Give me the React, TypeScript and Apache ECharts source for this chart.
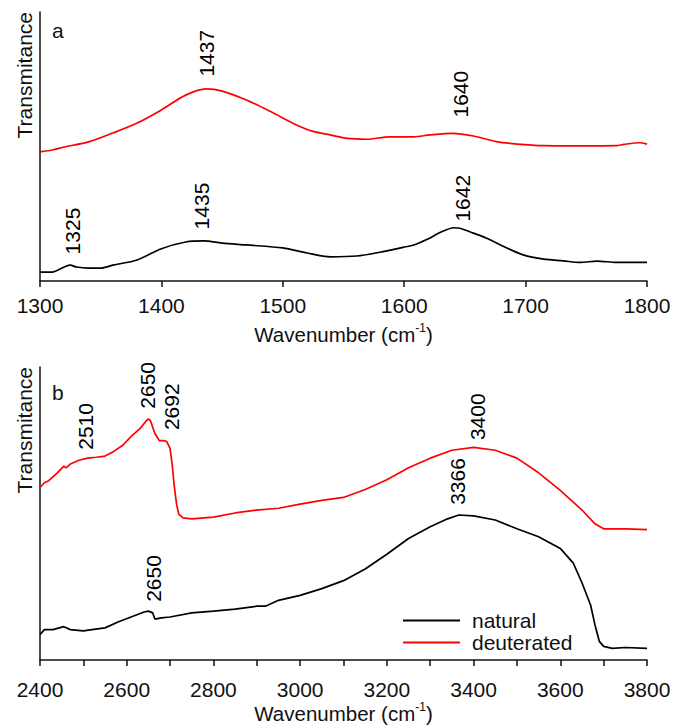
import React, { useEffect, useRef } from "react";
import * as echarts from "echarts";

// Panel a (1300–1800 cm-1): [wavenumber, transmittance (a.u.)]
const naturalA: [number, number][] = [
  [1300, 3.3], [1310, 3.3], [1320, 5.2], [1325, 5.9], [1330, 5.2], [1340, 4.8], [1350, 4.8],
  [1360, 5.9], [1380, 7.8], [1400, 12.0], [1420, 14.5], [1435, 14.9], [1450, 14.1], [1470, 13.4],
  [1500, 12.3], [1520, 10.4], [1539, 9.0], [1561, 9.3], [1580, 10.7], [1599, 12.5], [1608, 13.4],
  [1619, 15.5], [1630, 18.1], [1641, 19.8], [1646, 19.6], [1654, 18.3], [1668, 15.9], [1682, 12.8],
  [1698, 9.7], [1715, 8.1], [1731, 7.5], [1745, 6.9], [1759, 7.4], [1775, 6.9], [1800, 6.9],
];
const deuteratedA: [number, number][] = [
  [1300, 48.0], [1310, 48.7], [1320, 49.8], [1340, 51.7], [1360, 55.0], [1380, 58.7], [1400, 63.6],
  [1420, 69.1], [1437, 71.4], [1450, 70.6], [1470, 67.3], [1490, 63.0], [1510, 58.3], [1525, 55.6],
  [1539, 54.3], [1553, 53.0], [1569, 52.7], [1588, 53.6], [1608, 53.6], [1621, 54.3], [1640, 54.9],
  [1657, 53.9], [1676, 51.8], [1693, 50.9], [1715, 50.3], [1748, 50.2], [1775, 50.3], [1781, 50.8],
  [1794, 51.4], [1800, 50.9],
];

// Panel b (2400–3800 cm-1)
const naturalB: [number, number][] = [
  [2400, 8.7], [2410, 10.4], [2430, 10.4], [2455, 11.4], [2470, 10.4], [2500, 10.0], [2520, 10.4],
  [2550, 11.0], [2580, 13.0], [2610, 14.7], [2640, 16.4], [2650, 16.7], [2660, 16.1], [2665, 14.0],
  [2680, 14.4], [2700, 14.7], [2750, 16.1], [2800, 16.7], [2850, 17.4], [2900, 18.4], [2920, 18.4],
  [2950, 20.4], [3000, 22.1], [3050, 24.4], [3100, 27.1], [3150, 31.1], [3200, 36.1], [3250, 41.5],
  [3300, 45.5], [3340, 48.2], [3366, 49.5], [3400, 49.2], [3450, 47.8], [3500, 44.8], [3550, 42.1],
  [3600, 38.1], [3630, 33.1], [3650, 26.4], [3670, 18.7], [3680, 12.0], [3690, 6.4], [3700, 4.7],
  [3720, 4.0], [3750, 4.3], [3800, 4.0],
];
const deuteratedB: [number, number][] = [
  [2400, 58.9], [2410, 60.5], [2420, 61.2], [2440, 63.9], [2455, 66.2], [2460, 65.6], [2470, 66.9],
  [2490, 68.2], [2510, 68.9], [2530, 69.2], [2550, 69.6], [2570, 71.2], [2590, 73.2], [2610, 76.3],
  [2630, 78.9], [2645, 81.6], [2650, 82.3], [2655, 81.6], [2665, 77.3], [2675, 74.9], [2685, 74.9],
  [2692, 74.6], [2700, 72.2], [2705, 66.6], [2710, 58.9], [2715, 53.2], [2720, 49.8], [2730, 48.5],
  [2750, 48.2], [2800, 48.8], [2850, 50.2], [2900, 51.2], [2950, 51.8], [3000, 53.2], [3050, 54.5],
  [3100, 55.5], [3150, 58.2], [3200, 61.5], [3250, 65.6], [3300, 68.9], [3350, 71.6], [3400, 72.6],
  [3450, 71.6], [3500, 68.9], [3550, 63.9], [3600, 57.9], [3650, 51.2], [3680, 46.5], [3700, 44.8],
  [3750, 44.8], [3800, 44.5],
];

// Peak annotations: [wavenumber position, transmittance at label base, label]
const peaksA: [number, number, string][] = [
  [1437, 75.8, "1437"], [1646, 60.6, "1640"], [1327, 9.7, "1325"], [1433, 19.0, "1435"], [1648, 21.9, "1642"],
];
const peaksB: [number, number, string][] = [
  [2504, 71.6, "2510"], [2649, 85.6, "2650"], [2704, 78.3, "2692"], [3408, 74.9, "3400"],
  [2661, 19.7, "2650"], [3362, 52.8, "3366"],
];

const xTicksA = { min: 1300, max: 1800, interval: 100 };
const xTicksB = { min: 2400, max: 3800, interval: 200 };

const FONT = "'Liberation Sans', Arial, sans-serif";
const TXT = "#111111";
const AXIS = "#111";
const FS = 21;

export default function App() {
  const ref = useRef<HTMLDivElement>(null);
  useEffect(() => {
    if (!ref.current) return;
    const chart = echarts.init(ref.current, null, { renderer: "svg" });

    const xAxisBase = (idx: number, ticks: any, nameGap: number, margin: number) => ({
      type: "value",
      gridIndex: idx,
      min: ticks.min,
      max: ticks.max,
      interval: ticks.interval,
      name: "Wavenumber (cm{sup|-1})",
      nameLocation: "middle",
      nameGap,
      nameTextStyle: {
        fontFamily: FONT, fontSize: 20.5, color: TXT, lineHeight: 24,
        rich: { sup: { fontFamily: FONT, fontSize: 12, lineHeight: 12, verticalAlign: "top", color: TXT } },
      },
      axisLine: { show: true, lineStyle: { color: AXIS, width: 1.5 } },
      axisTick: { show: true, length: 6, lineStyle: { color: AXIS, width: 1.5 } },
      minorTick: idx === 1 ? { show: true, splitNumber: 2, length: 6, lineStyle: { color: AXIS, width: 1.5 } } : { show: false },
      splitLine: { show: false },
      axisLabel: { fontFamily: FONT, fontSize: FS, color: TXT, margin, formatter: (v: number) => String(v) },
    });
    const yAxisBase = (idx: number) => ({
      type: "value",
      gridIndex: idx,
      min: 0,
      max: 100,
      axisLine: { show: true, lineStyle: { color: AXIS, width: 1.5 } },
      axisTick: { show: false },
      axisLabel: { show: false },
      splitLine: { show: false },
    });

    const line = (name: string, data: any, idx: number, color: string, smooth: number | boolean) => ({
      type: "line",
      name,
      data,
      xAxisIndex: idx,
      yAxisIndex: idx,
      symbol: "none",
      smooth,
      color,
      lineStyle: { color, width: 1.7 },
    });
    const ann = (data: any, idx: number) => ({
      type: "scatter",
      data,
      xAxisIndex: idx,
      yAxisIndex: idx,
      symbolSize: 1,
      itemStyle: { color: "transparent" },
      silent: true,
      label: {
        show: true,
        position: "top",
        distance: 0,
        rotate: 90,
        align: "left",
        verticalAlign: "middle",
        fontFamily: FONT,
        fontSize: FS,
        color: "#000",
        opacity: 1,
        textBorderWidth: 0,
        formatter: (p: any) => p.value[2],
      },
    });

    chart.setOption({
      animation: false,
      backgroundColor: "#fff",
      grid: [
        { left: 40, top: 12, width: 607, height: 269 },
        { left: 40, top: 367, width: 607, height: 299 },
      ],
      xAxis: [xAxisBase(0, xTicksA, 41, 14), xAxisBase(1, xTicksB, 40, 19)],
      yAxis: [yAxisBase(0), yAxisBase(1)],
      legend: {
        data: [{ name: "natural", icon: "rect" }, { name: "deuterated", icon: "rect" }],
        orient: "vertical",
        left: 398,
        top: 605,
        itemWidth: 57,
        itemHeight: 2,
        itemGap: 1,
        textStyle: { fontFamily: FONT, fontSize: FS, color: TXT, padding: [0, 0, 0, 7] },
      },
      graphic: [
        { type: "text", x: 24, y: 12, rotation: Math.PI / 2, style: { text: "Transmitance", font: `${FS}px ${FONT}`, fill: TXT, align: "right", verticalAlign: "middle" } },
        { type: "text", x: 24, y: 367, rotation: Math.PI / 2, style: { text: "Transmitance", font: `${FS}px ${FONT}`, fill: TXT, align: "right", verticalAlign: "middle" } },
        { type: "text", x: 52, y: 30, style: { text: "a", font: `${FS}px ${FONT}`, fill: TXT, align: "left", verticalAlign: "middle" } },
        { type: "text", x: 52, y: 392, style: { text: "b", font: `${FS}px ${FONT}`, fill: TXT, align: "left", verticalAlign: "middle" } },
      ],
      series: [
        line("natural", naturalA, 0, "#000000", 0.3),
        line("deuterated", deuteratedA, 0, "#ff0000", 0.3),
        line("natural", naturalB, 1, "#000000", false),
        line("deuterated", deuteratedB, 1, "#ff0000", false),
        ann(peaksA, 0),
        ann(peaksB, 1),
      ],
    });
    return () => chart.dispose();
  }, []);
  return <div ref={ref} style={{ width: 676, height: 726, position: "absolute", left: 0, top: 0 }} />;
}
